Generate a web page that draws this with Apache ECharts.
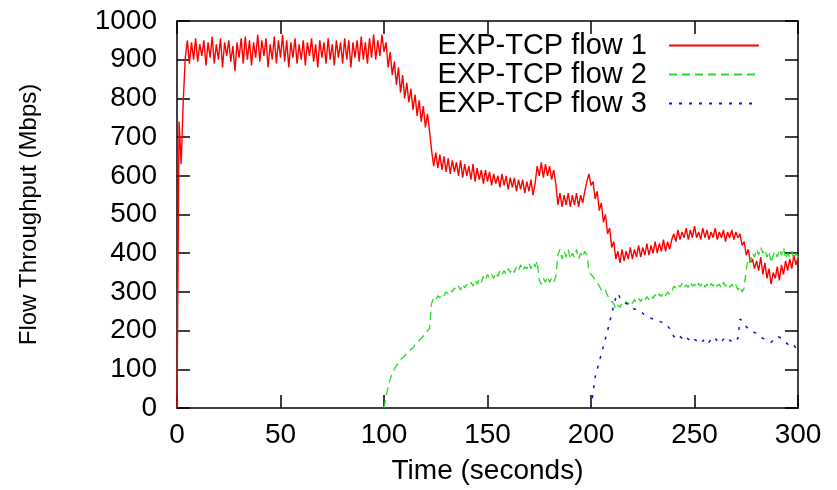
<!DOCTYPE html>
<html>
<head>
<meta charset="utf-8">
<script src="https://cdn.jsdelivr.net/npm/echarts@6/dist/echarts.min.js"></script>
<style>html,body{margin:0;padding:0;background:#fff;}#chart{width:837px;height:490px;}</style>
</head>
<body>
<div id="chart"></div>
<script>
// Time axis ticks
const xTicks = [0, 50, 100, 150, 200, 250, 300];
const yTicks = [0, 100, 200, 300, 400, 500, 600, 700, 800, 900, 1000];
const seriesNames = ['EXP-TCP flow 1', 'EXP-TCP flow 2', 'EXP-TCP flow 3'];

// Flow 1: one sample per second, t = 0..300
const flow1Start = 0;
const flow1 = [
  0, 740, 630, 790, 905, 950, 890, 945, 900, 955,
  895, 940, 910, 950, 885, 945, 905, 960, 890, 940,
  900, 955, 880, 945, 910, 950, 895, 935, 870, 945,
  905, 955, 890, 960, 900, 950, 885, 945, 905, 965,
  895, 950, 910, 955, 880, 940, 900, 960, 890, 950,
  905, 965, 895, 950, 880, 945, 905, 955, 890, 940,
  900, 950, 885, 945, 910, 955, 895, 940, 880, 950,
  905, 945, 890, 955, 900, 940, 885, 950, 905, 945,
  890, 955, 900, 950, 880, 945, 905, 950, 895, 960,
  900, 945, 890, 955, 905, 965, 900, 950, 910, 965,
  920, 945, 880, 920, 860, 895, 835, 880, 815, 860,
  800, 840, 790, 825, 770, 810, 755, 795, 740, 780,
  725, 760, 715, 665, 625, 660, 620, 655, 615, 650,
  610, 645, 605, 640, 610, 635, 600, 640, 595, 630,
  600, 625, 590, 630, 585, 620, 590, 615, 580, 615,
  585, 610, 575, 605, 580, 600, 570, 605, 575, 600,
  565, 595, 570, 595, 560, 590, 565, 590, 555, 585,
  560, 590, 550, 580, 625, 600, 635, 595, 630, 600,
  625, 590, 615, 580, 525, 555, 520, 550, 525, 555,
  520, 550, 525, 555, 520, 550, 530, 560, 585, 605,
  575, 585, 540, 560, 510, 530, 480, 500, 450, 465,
  415, 430, 385, 405, 375, 410, 380, 405, 385, 415,
  385, 410, 390, 420, 390, 415, 395, 425, 395, 420,
  400, 430, 400, 425, 405, 435, 405, 430, 410, 435,
  450, 430, 460, 435, 455, 440, 465, 435, 460, 440,
  470, 440, 455, 435, 465, 440, 460, 435, 455, 440,
  465, 435, 455, 440, 460, 430, 455, 440, 460, 435,
  455, 440, 450, 420, 430, 395, 410, 375, 385, 360,
  380, 355, 390, 345, 375, 335, 360, 320, 350, 335,
  365, 330, 370, 345, 380, 355, 385, 360, 395, 370,
  390
];

// Flow 2: one sample per second, t = 100..300
const flow2Start = 100;
const flow2 = [
  0, 30, 55, 75, 90, 100, 110, 115, 125, 130,
  135, 142, 145, 152, 155, 165, 168, 175, 180, 186,
  190, 200, 205, 270, 285, 280, 290, 285, 295, 290,
  300, 295, 305, 300, 310, 305, 315, 305, 320, 310,
  320, 315, 325, 315, 330, 320, 335, 325, 340, 330,
  345, 335, 345, 335, 350, 340, 355, 345, 355, 345,
  360, 350, 360, 350, 365, 355, 370, 355, 365, 360,
  375, 360, 375, 365, 380, 330, 320, 335, 325, 340,
  325, 335, 325, 340, 395, 410, 385, 405, 390, 410,
  385, 400, 390, 410, 385, 400, 390, 405, 395, 355,
  345, 340, 330, 325, 315, 305, 300, 305, 290, 285,
  275, 270, 255, 265, 260, 270, 265, 275, 268, 278,
  270, 280, 272, 283, 275, 285, 278, 288, 280, 290,
  283, 293, 285, 295, 288, 298, 290, 300, 293, 300,
  315, 310, 320, 312, 322, 310, 318, 312, 325, 315,
  320, 310, 322, 315, 325, 312, 320, 310, 322, 315,
  325, 315, 320, 310, 325, 315, 322, 312, 320, 310,
  318, 305, 315, 300, 310, 360, 385, 375, 400, 390,
  410, 395, 415, 400, 410, 390, 405, 375, 395, 405,
  390, 410, 395, 415, 385, 400, 390, 405, 385, 400,
  390
];

// Flow 3: one sample per second, t = 200..300
const flow3Start = 200;
const flow3 = [
  0, 40, 80, 100, 120, 140, 160, 180, 200, 220,
  245, 265, 285, 296, 285, 280, 275, 270, 268, 262,
  260, 255, 255, 250, 248, 245, 240, 238, 235, 232,
  230, 228, 225, 224, 222, 220, 218, 212, 205, 195,
  185, 182, 178, 185, 180, 176, 183, 178, 175, 182,
  177, 174, 180, 176, 172, 180, 175, 170, 178, 174,
  180, 173, 177, 171, 178, 174, 180, 175, 172, 178,
  175, 180, 230, 225, 218, 210, 205, 200, 198, 195,
  193, 190, 185, 180, 178, 175, 172, 170, 175, 180,
  185, 183, 180, 175, 170, 165, 160, 158, 162, 155,
  160
];

function pairs(start, arr) { return arr.map((v, i) => [start + i, v]); }

const FONT = '"Liberation Sans", Arial, sans-serif';
const chart = echarts.init(document.getElementById('chart'));

function axisLine() { return { show: true, onZero: false, lineStyle: { color: '#000', width: 1.5 } }; }
function tickIn() { return { show: true, inside: true, length: 13, lineStyle: { color: '#000', width: 1.5 } }; }
const plain = v => String(v);

chart.setOption({
  animation: false,
  grid: { left: 177, right: 39, top: 21, bottom: 82 },
  legend: {
    data: seriesNames,
    orient: 'vertical',
    align: 'right',
    right: 77,
    top: 31,
    padding: 0,
    itemGap: 0,
    itemWidth: 90,
    itemHeight: 12,
    itemStyle: { opacity: 0 },
    textStyle: { fontFamily: FONT, fontSize: 29, color: '#000', lineHeight: 26.5, padding: [0, 17, 0, 0] }
  },
  xAxis: [
    {
      type: 'value', min: xTicks[0], max: xTicks[xTicks.length - 1], interval: 50,
      position: 'bottom',
      name: 'Time (seconds)', nameLocation: 'middle', nameGap: 49,
      nameTextStyle: { fontFamily: FONT, fontSize: 28, color: '#000' },
      axisLine: axisLine(),
      axisTick: tickIn(),
      axisLabel: { fontFamily: FONT, fontSize: 28, color: '#000', margin: 13, formatter: plain },
      splitLine: { show: false }
    },
    {
      type: 'value', min: xTicks[0], max: xTicks[xTicks.length - 1], interval: 50,
      position: 'top',
      axisLine: axisLine(),
      axisTick: tickIn(),
      axisLabel: { show: false },
      splitLine: { show: false }
    }
  ],
  yAxis: [
    {
      type: 'value', min: yTicks[0], max: yTicks[yTicks.length - 1], interval: 100,
      position: 'left',
      name: 'Flow Throughput (Mbps)', nameLocation: 'middle', nameGap: 136,
      nameTextStyle: { fontFamily: FONT, fontSize: 24, color: '#000' },
      axisLine: axisLine(),
      axisTick: tickIn(),
      axisLabel: { fontFamily: FONT, fontSize: 28, color: '#000', margin: 20, formatter: plain },
      splitLine: { show: false }
    },
    {
      type: 'value', min: yTicks[0], max: yTicks[yTicks.length - 1], interval: 100,
      position: 'right',
      axisLine: axisLine(),
      axisTick: tickIn(),
      axisLabel: { show: false },
      splitLine: { show: false }
    }
  ],
  series: [
    {
      name: seriesNames[0], type: 'line', xAxisIndex: 0, yAxisIndex: 0,
      data: pairs(flow1Start, flow1), showSymbol: false, symbol: 'none',
      color: '#ff0000',
      lineStyle: { color: '#ff0000', width: 1.4, type: 'solid' }
    },
    {
      name: seriesNames[1], type: 'line', xAxisIndex: 0, yAxisIndex: 0,
      data: pairs(flow2Start, flow2), showSymbol: false, symbol: 'none',
      color: '#22dd22',
      lineStyle: { color: '#22dd22', width: 1.3, type: [8, 5] }
    },
    {
      name: seriesNames[2], type: 'line', xAxisIndex: 0, yAxisIndex: 0,
      data: pairs(flow3Start, flow3), showSymbol: false, symbol: 'none',
      color: '#1010cc',
      lineStyle: { color: '#1010cc', width: 1.5, type: [3, 7] }
    }
  ]
});
</script>
</body>
</html>
